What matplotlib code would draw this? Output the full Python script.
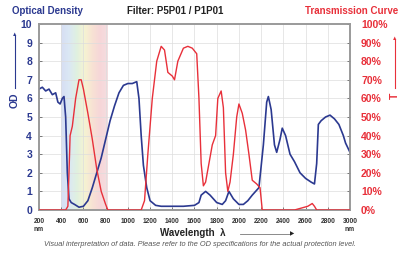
import numpy as np
import matplotlib
matplotlib.use('Agg')
import matplotlib.pyplot as plt
from matplotlib.colors import LinearSegmentedColormap

plt.rcParams['font.family'] = ['Liberation Sans', 'DejaVu Sans']

# optical density curve (nm, OD)
od_nm = [200, 230, 260, 290, 320, 350, 370, 390, 410, 425, 440, 455, 470, 490, 520, 560,
         600, 640, 680, 720, 760, 800, 840, 880, 920, 960, 1000, 1040, 1080, 1100, 1120,
         1140, 1170, 1200, 1250, 1300, 1400, 1500, 1600, 1640, 1660, 1700, 1740, 1800,
         1850, 1880, 1910, 1950, 2000, 2040, 2080, 2120, 2180, 2220, 2250, 2265, 2290,
         2320, 2340, 2370, 2390, 2420, 2460, 2500, 2550, 2600, 2650, 2680, 2700, 2715,
         2740, 2780, 2820, 2860, 2900, 2940, 2960, 3000]
od_val = [6.5, 6.6, 6.4, 6.5, 6.2, 6.3, 5.8, 5.7, 6.0, 6.1, 5.0, 2.0, 0.6, 0.4, 0.3, 0.15,
          0.2, 0.5, 1.2, 2.0, 2.8, 3.8, 4.8, 5.6, 6.3, 6.7, 6.8, 6.8, 6.9, 6.0, 4.0,
          2.4, 1.2, 0.5, 0.25, 0.2, 0.2, 0.2, 0.25, 0.4, 0.8, 1.0, 0.8, 0.4,
          0.3, 0.5, 1.0, 0.6, 0.3, 0.3, 0.5, 0.8, 1.2, 3.5, 5.8, 6.1, 5.4,
          3.5, 3.1, 3.8, 4.4, 4.0, 3.0, 2.6, 2.0, 1.7, 1.5, 1.4, 2.5, 4.6,
          4.8, 5.0, 5.1, 4.9, 4.6, 4.0, 3.6, 3.1]

# transmission curve (nm, %)
t_nm = [200, 440, 460, 470, 480, 500, 530, 560, 580, 600, 640, 680, 720, 760, 800, 820,
        1120, 1150, 1180, 1220, 1260, 1300, 1330, 1360, 1400, 1420, 1450, 1500, 1540,
        1580, 1620, 1640, 1660, 1680, 1700, 1730, 1760, 1790, 1810, 1840, 1860, 1880,
        1900, 1920, 1950, 1980, 2000, 2030, 2060, 2090, 2120, 2160, 2190, 2210, 2500,
        2560, 2620, 2660, 2680, 2700, 3000]
t_val = [0, 0, 2, 20, 40, 45, 60, 70, 70, 65, 52, 38, 22, 10, 3, 0,
         0, 5, 30, 60, 80, 88, 86, 74, 72, 70, 80, 87, 88,
         87, 84, 60, 25, 13, 15, 25, 35, 40, 60, 64, 55, 20,
         10, 15, 30, 50, 57, 52, 43, 30, 16, 14, 12, 0, 0,
         1, 2, 3.5, 2, 0, 0]

x_ticks = list(range(200, 3001, 200))
x_labels = ['200\nnm'] + [str(v) for v in x_ticks[1:-1]] + ['3000\nnm']
od_ticks = list(range(0, 11))
t_ticks = list(range(0, 101, 10))
t_labels = [f'{v}%' for v in t_ticks]

blue = '#2b3990'
red = '#e8303a'

fig = plt.figure(figsize=(4.02, 2.54), dpi=100)
ax = fig.add_axes([39/402, 1-210/254, 311/402, 186/254])

# visible spectrum band
spec = LinearSegmentedColormap.from_list('spec', ['#c9d3ef', '#cfe0f2', '#d6ecd6', '#f2f0c4',
                                                  '#f6d9c6', '#f4c9cc', '#f1d3d6'])
ax.imshow(np.linspace(0, 1, 200)[None, :], extent=[400, 820, 0, 10], aspect='auto',
          cmap=spec, alpha=0.75, zorder=0)

ax.plot(od_nm, od_val, color=blue, lw=1.2, zorder=3)
ax.set_xlim(200, 3000)
ax.set_ylim(0, 10)
ax.set_xticks(x_ticks)
ax.set_xticklabels(x_labels, fontsize=4.8, fontweight='bold')
ax.set_yticks(od_ticks)
ax.set_yticklabels(od_ticks, fontsize=7.5, fontweight='bold')
ax.grid(True, color='#dddddd', lw=0.5)
ax.tick_params(axis='x', direction='in', length=2.5, width=0.6, colors='#666666', pad=6)
ax.tick_params(axis='y', direction='in', length=2.5, width=0.6, colors='#666666', pad=5)
for lbl in ax.get_yticklabels():
    lbl.set_color(blue)
for lbl in ax.get_xticklabels():
    lbl.set_color('#333333')

ax2 = ax.twinx()
ax2.plot(t_nm, t_val, color=red, lw=1.0, zorder=3)
ax2.set_ylim(0, 100)
ax2.set_yticks(t_ticks)
ax2.set_yticklabels(t_labels, fontsize=7.5, fontweight='bold')
ax2.tick_params(axis='y', direction='in', length=2.5, width=0.6, colors='#666666', pad=8)
for lbl in ax2.get_yticklabels():
    lbl.set_color(red)

for a in (ax, ax2):
    for s in a.spines.values():
        s.set_color('#9a9a9a')
        s.set_linewidth(1.2)

# header texts
fig.text(12/402, 1-11/254, 'Optical Density', color=blue, fontsize=7, fontweight='bold', va='center')
fig.text(127/402, 1-11/254, 'Filter: P5P01 / P1P01', color='#222222', fontsize=7,
         fontweight='bold', va='center')
fig.text(398/402, 1-11/254, 'Transmission Curve', color=red, fontsize=7, fontweight='bold',
         va='center', ha='right')

# axis name arrows
fig.text(15/402, 1-100/254, 'OD', color=blue, fontsize=7.5, fontweight='bold', rotation=90,
         ha='center', va='center')
fig.add_artist(plt.Line2D([15/402, 15/402], [1-88/254, 1-36/254], color=blue, lw=0.8))
fig.text(15/402, 1-34/254, '\u25b2', color=blue, fontsize=4, ha='center', va='center')
fig.text(395/402, 1-96/254, 'T', color=red, fontsize=7.5, fontweight='bold', rotation=90,
         ha='center', va='center')
fig.add_artist(plt.Line2D([395/402, 395/402], [1-88/254, 1-40/254], color=red, lw=0.8))
fig.text(395/402, 1-38/254, '\u25b2', color=red, fontsize=4, ha='center', va='center')

# wavelength label
fig.text(160/402, 1-233/254, 'Wavelength  \u03bb', color='#222222', fontsize=7,
         fontweight='bold', ha='left', va='center')
fig.add_artist(plt.Line2D([240/402, 290/402], [1-234/254, 1-234/254], color='#777777', lw=0.6))
fig.text(292/402, 1-234/254, '\u25b6', color='#222222', fontsize=4, ha='center', va='center')

fig.text(200/402, 1-244/254,
         'Visual interpretation of data. Please refer to the OD specifications for the actual protection level.',
         color='#555555', fontsize=5.3, style='italic', ha='center', va='center')

fig.savefig('out.png', dpi=100)
